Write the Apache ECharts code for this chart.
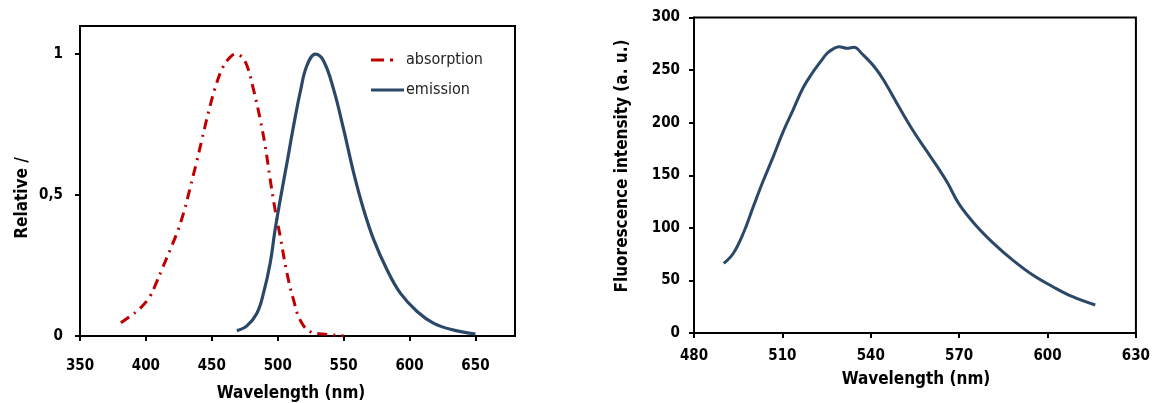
<!DOCTYPE html>
<html>
<head>
<meta charset="utf-8">
<script src="https://cdn.jsdelivr.net/npm/echarts@6/dist/echarts.min.js"></script>
<style>
  html, body { margin: 0; padding: 0; background: #fff; }
  #chart { width: 1153px; height: 403px; }
</style>
</head>
<body>
<div id="chart"></div>
<script>
// Left panel: normalised absorption and emission spectra
const absorptionWl  = [381, 388, 395.6, 403, 408, 412, 418.4, 424.7, 429.7, 433.5, 438.6, 442.4, 447.5, 452.5, 458, 463, 468, 472, 476.6, 481.6, 486.7, 490.5, 494.3, 498, 501.9, 507, 512, 517, 524.7, 534.8, 550];
const absorptionVal = [0.047, 0.07, 0.098, 0.14, 0.19, 0.235, 0.306, 0.38, 0.455, 0.525, 0.62, 0.695, 0.795, 0.88, 0.95, 0.985, 1.0, 0.993, 0.96, 0.875, 0.769, 0.674, 0.555, 0.448, 0.353, 0.223, 0.128, 0.057, 0.015, 0.007, 0];

const emissionWl  = [469, 476.6, 484.2, 489.2, 494.3, 498, 501.9, 507, 512, 517, 522, 528.5, 534.8, 542.4, 550, 557.6, 565.2, 572.8, 582.9, 593, 605.7, 618.4, 633.5, 650];
const emissionVal = [0.019, 0.036, 0.081, 0.152, 0.259, 0.377, 0.484, 0.614, 0.745, 0.864, 0.958, 1.0, 0.976, 0.875, 0.733, 0.579, 0.448, 0.342, 0.235, 0.152, 0.087, 0.045, 0.021, 0.007];

// Right panel: fluorescence intensity
const fluoWl  = [490.1, 493.3, 496.7, 500.1, 503.4, 506.8, 510.2, 513.6, 517, 520.1, 522.7, 525.2, 527.5, 529.2, 532, 534.3, 537, 541.6, 545, 549.5, 554, 558.5, 563.1, 566, 570.1, 575.8, 581.4, 588.2, 595, 601.8, 608.5, 616.2];
const fluoVal = [66.2, 75.6, 94.6, 119.9, 144, 167, 191, 212, 233, 247, 257, 266, 270.5, 272.3, 270.7, 271.7, 265.5, 251.8, 237.5, 215.3, 194, 175, 156, 143, 122, 102, 86, 69.3, 55.1, 44, 34.5, 26.6];

// Tick values
const leftXTicks  = [350, 400, 450, 500, 550, 600, 650];
const leftYTicks  = [0, 0.5, 1];
const rightXTicks = [480, 510, 540, 570, 600, 630];
const rightYTicks = [0, 50, 100, 150, 200, 250, 300];

const pair = (xs, ys) => xs.map((x, i) => [x, ys[i]]);

const FONT = '"DejaVu Sans Condensed", "DejaVu Sans", sans-serif';
const NAVY = '#2B4868';
const RED = '#C00000';

const axisCommon = {
  type: 'value',
  axisLine: { show: true, onZero: false, lineStyle: { color: '#000', width: 2 } },
  axisTick: { show: true, inside: false, length: 5, lineStyle: { color: '#000', width: 2 } },
  splitLine: { show: false },
  axisLabel: { color: '#000', fontWeight: 'bold', fontFamily: FONT, fontSize: 15 }
};

function axis(extra, ticks, labelExtra) {
  return Object.assign({}, axisCommon, extra, {
    axisTick: Object.assign({}, axisCommon.axisTick, { customValues: ticks }),
    axisLabel: Object.assign({}, axisCommon.axisLabel, { customValues: ticks }, labelExtra || {})
  });
}

const chart = echarts.init(document.getElementById('chart'), null, { renderer: 'canvas' });

const titleFont = 'bold 17px ' + FONT;

chart.setOption({
  animation: false,
  backgroundColor: '#fff',
  grid: [
    { left: 80, right: 638, top: 26, bottom: 67, show: true, borderColor: '#000', borderWidth: 2, backgroundColor: 'transparent' },
    { left: 694, right: 16, top: 17.5, bottom: 70, show: true, borderColor: '#000', borderWidth: 2, backgroundColor: 'transparent' }
  ],
  xAxis: [
    axis({ gridIndex: 0, min: 350, max: 680 }, leftXTicks, { margin: 23 }),
    axis({ gridIndex: 1, min: 480, max: 630 }, rightXTicks, { margin: 16 })
  ],
  yAxis: [
    axis({ gridIndex: 0, min: 0, max: 1.1 }, leftYTicks, { margin: 17, formatter: v => String(v).replace('.', ',') }),
    axis({ gridIndex: 1, min: 0, max: 300 }, rightYTicks, { margin: 14 })
  ],
  legend: {
    orient: 'vertical',
    left: 371,
    top: 51,
    padding: 0,
    itemWidth: 33,
    itemHeight: 3,
    itemGap: 12,
    textStyle: { fontFamily: FONT, fontSize: 16, color: '#222', lineHeight: 18, height: 18, padding: [0, 0, 0, -3] },
    data: [
      { name: 'absorption', icon: 'path://M0,0h13v3h-13z M19,0h3v3h-3z M33,0v3z', itemStyle: { color: RED } },
      { name: 'emission', icon: 'rect', itemStyle: { color: NAVY } }
    ]
  },
  series: [
    {
      name: 'absorption',
      type: 'line',
      xAxisIndex: 0, yAxisIndex: 0,
      data: pair(absorptionWl, absorptionVal),
      smooth: 0.4,
      symbol: 'none',
      lineStyle: { color: RED, width: 3, type: [10, 6, 2, 6] },
      itemStyle: { color: RED }
    },
    {
      name: 'emission',
      type: 'line',
      xAxisIndex: 0, yAxisIndex: 0,
      data: pair(emissionWl, emissionVal),
      smooth: 0.4,
      symbol: 'none',
      lineStyle: { color: NAVY, width: 3.2 },
      itemStyle: { color: NAVY }
    },
    {
      name: 'fluorescence',
      type: 'line',
      xAxisIndex: 1, yAxisIndex: 1,
      data: pair(fluoWl, fluoVal),
      smooth: 0.4,
      symbol: 'none',
      lineStyle: { color: NAVY, width: 3 },
      itemStyle: { color: NAVY }
    }
  ],
  graphic: [
    { type: 'text', x: 291, y: 394, style: { text: 'Wavelength (nm)', font: titleFont, fill: '#000', textAlign: 'center', textVerticalAlign: 'middle' } },
    { type: 'text', x: 23, y: 198, rotation: Math.PI / 2, style: { text: 'Relative /', font: titleFont, fill: '#000', textAlign: 'center', textVerticalAlign: 'middle' } },
    { type: 'text', x: 916, y: 380, style: { text: 'Wavelength (nm)', font: titleFont, fill: '#000', textAlign: 'center', textVerticalAlign: 'middle' } },
    { type: 'text', x: 623, y: 166, rotation: Math.PI / 2, style: { text: 'Fluorescence intensity (a. u.)', font: titleFont, fill: '#000', textAlign: 'center', textVerticalAlign: 'middle' } }
  ]
});
</script>
</body>
</html>
